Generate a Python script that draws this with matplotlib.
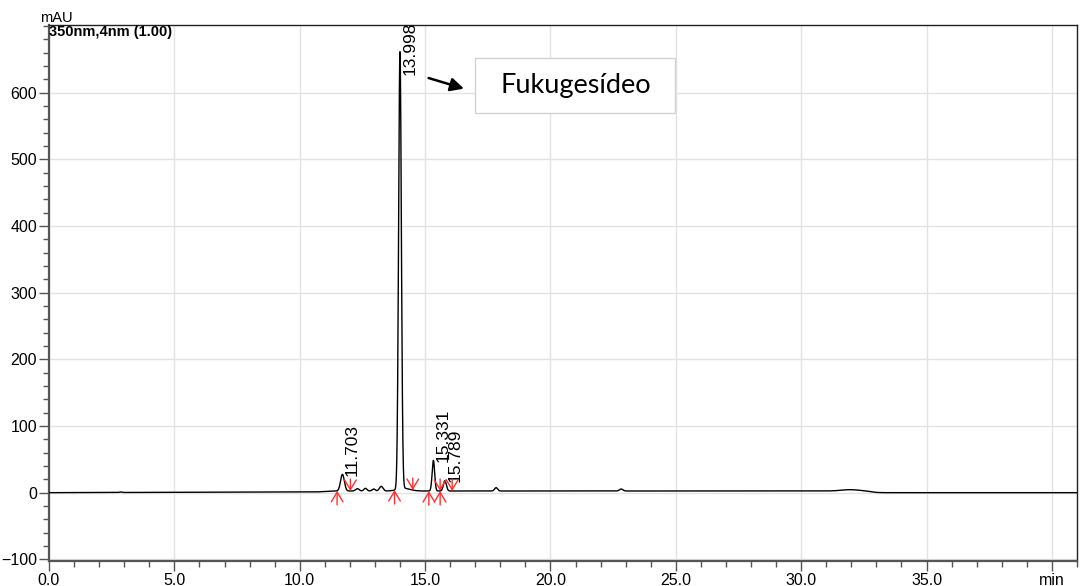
import numpy as np
import matplotlib
matplotlib.use("Agg")
import matplotlib.pyplot as plt
from matplotlib.patches import Rectangle
from matplotlib.ticker import MultipleLocator, FixedLocator, FixedFormatter

# ---- chromatogram data (350 nm, 4 nm) ----
# peak table: retention time (min), height (mAU), width sigma (min)
peak_rt = [2.85, 11.703, 12.30, 12.62, 12.95, 13.25, 13.998, 14.15, 15.331, 15.789, 17.83, 22.82, 31.95]
peak_height = [0.8, 25.0, 3.5, 4.0, 3.0, 7.0, 656.0, 4.0, 46.0, 15.5, 5.0, 3.0, 2.0]
peak_sigma = [0.05, 0.075, 0.07, 0.06, 0.06, 0.07, 0.055, 0.25, 0.05, 0.06, 0.06, 0.07, 0.35]

# baseline drift: level (mAU) and the times where it rises / falls
drift_level = 2.5
drift_on = 11.0
drift_off = 32.8
drift_early = 1.0  # slow rise over the first 10 min

# integrated peaks: labels and integration marks
labeled_rt = [11.703, 13.998, 15.331, 15.789]
labeled_text = ["11.703", "13.998", "15.331", "15.789"]
peak_start = [11.49, 13.78, 15.15, 15.60]
peak_end = [12.02, 14.51, 15.60, 16.08]

x_ticks = [0, 5, 10, 15, 20, 25, 30, 35, 40]
x_tick_labels = ["0.0", "5.0", "10.0", "15.0", "20.0", "25.0", "30.0", "35.0", "min"]
y_ticks = [-100, 0, 100, 200, 300, 400, 500, 600]

compound_name = "Fukugesídeo"
channel_text = "350nm,4nm (1.00)"

# ---- build the trace ----
t = np.linspace(0, 41, 8201)


def signal(tt):
    tt = np.asarray(tt, dtype=float)
    rise = 0.5 * (1 + np.tanh((tt - drift_on) / 0.3))
    fall = 0.5 * (1 - np.tanh((tt - drift_off) / 0.25))
    base = drift_early * np.clip(tt / 10.0, 0, 1) * (1 - rise)
    base = base + drift_level * rise * fall
    for rt, h, s in zip(peak_rt, peak_height, peak_sigma):
        base = base + h * np.exp(-0.5 * ((tt - rt) / s) ** 2)
    return base


y = signal(t)

W, H = 1082, 586
fig = plt.figure(figsize=(W / 100, H / 100), dpi=100)
ax = fig.add_axes([49 / W, 1 - 561 / H, (1077 - 49) / W, (561 - 25) / H])

ax.set_xlim(0, 41)
ax.set_ylim(-102.5, 701.5)

ax.grid(True, which="major", color="#e3e3e3", lw=1.0, zorder=0)
ax.set_axisbelow(True)

ax.plot(t, y, color="black", lw=1.0, zorder=3)

# peak retention time labels
for rt, lab in zip(labeled_rt, labeled_text):
    h = float(signal(rt))
    lab_len = 52 / 0.6667  # label length in data units
    if h + lab_len > 701.5:
        ax.text(rt + 0.4, 706, lab, rotation=90, ha="center", va="top",
                fontsize=12.5, family="Liberation Sans", zorder=4)
    else:
        ax.text(rt + 0.4, h - 2, lab, rotation=90, ha="center", va="bottom",
                fontsize=12.5, family="Liberation Sans", zorder=4)

# integration start / end marks
arrow_kw = dict(arrowstyle="->,head_length=0.5,head_width=0.3", color="#ff3030",
                lw=1.0, shrinkA=0, shrinkB=0, mutation_scale=14)
for ts in peak_start:
    b = float(signal(ts))
    ax.annotate("", xy=(ts, b), xytext=(ts, b - 21), arrowprops=arrow_kw, zorder=5)
for te in peak_end:
    b = float(signal(te))
    ax.annotate("", xy=(te, b), xytext=(te, b + 18), arrowprops=arrow_kw, zorder=5)

# compound callout
ax.annotate("", xy=(16.55, 606), xytext=(15.14, 622),
            arrowprops=dict(arrowstyle="-|>,head_length=0.8,head_width=0.4",
                            color="black", lw=1.8, shrinkA=0, shrinkB=0), zorder=6)
ax.add_patch(Rectangle((17.01, 569.3), 24.98 - 17.01, 651.8 - 569.3,
                       facecolor="white", edgecolor="#d2d2d2", lw=1.0, zorder=6))
ax.text((17.01 + 24.98) / 2, 611, compound_name, ha="center", va="center",
        fontsize=19.5, family="Lato", zorder=7)

# axes styling
ax.xaxis.set_major_locator(FixedLocator(x_ticks))
ax.xaxis.set_major_formatter(FixedFormatter(x_tick_labels))
ax.xaxis.set_minor_locator(MultipleLocator(1))
ax.yaxis.set_major_locator(FixedLocator(y_ticks))
ax.yaxis.set_minor_locator(MultipleLocator(20))
ax.tick_params(axis="both", which="major", direction="out", length=7, width=1.0,
               color="#555555", labelsize=11.5, pad=1.5)
ax.tick_params(axis="both", which="minor", direction="out", length=4, width=1.0,
               color="#555555")
for lab in ax.get_xticklabels() + ax.get_yticklabels():
    lab.set_family("Liberation Sans")

for side in ("left", "bottom"):
    ax.spines[side].set_color("#555555")
    ax.spines[side].set_linewidth(1.6)
for side in ("top", "right"):
    ax.spines[side].set_color("#222222")
    ax.spines[side].set_linewidth(1.0)

fig.text(40 / W, 1 - 24.5 / H, "mAU", ha="left", va="bottom", fontsize=10.5,
         family="Liberation Sans")
ax.text(0.0, 1.0, channel_text, transform=ax.transAxes, ha="left", va="top",
        fontsize=10.5, fontweight="bold", family="Liberation Sans", zorder=7)

fig.savefig("out.png", dpi=100)
